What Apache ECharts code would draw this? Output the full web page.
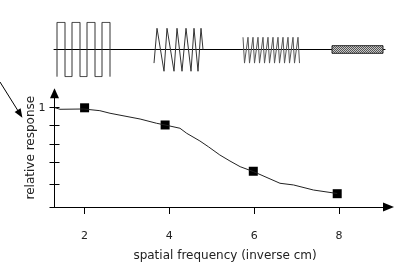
<!DOCTYPE html>
<html>
<head>
<meta charset="utf-8">
<script src="https://cdn.jsdelivr.net/npm/echarts@6/dist/echarts.min.js"></script>
<style>
  html, body { margin: 0; padding: 0; background: #fff; }
</style>
</head>
<body>
<div id="main" style="width: 402px; height: 263px;"></div>
<script>
// response curve (spatial frequency -> relative response)
var curveX = [1.30, 1.42, 1.98, 2.36, 2.60, 3.31, 3.70, 3.90, 4.25, 4.41, 4.72, 4.92, 5.19, 5.43, 5.67, 5.98, 6.61, 6.93, 7.40, 7.96];
var curveY = [1.000, 0.984, 0.987, 0.970, 0.944, 0.886, 0.843, 0.826, 0.793, 0.742, 0.665, 0.607, 0.524, 0.463, 0.406, 0.357, 0.239, 0.222, 0.171, 0.136];

// measured points (squares)
var pointX = [2.0, 3.9, 5.98, 7.96];
var pointY = [0.999, 0.826, 0.36, 0.134];

// axis ticks / labels
var xTicks = [2, 4, 6, 8];
var yTicks = [0.23, 0.45, 0.63, 0.82, 1];
var yLabels = [1];

// grating strip drawn above the chart (position along strip, amplitude)
var squareX = [3, 3, 11, 11, 18, 18, 26, 26, 33, 33, 41, 41, 48, 48, 56, 56];
var squareY = [-1, 1, 1, -1, -1, 1, 1, -1, -1, 1, 1, -1, -1, 1, 1, -1];
var zigX = [100, 103, 110, 113, 120, 123, 128, 132, 137, 140, 144, 147, 149];
var zigY = [-0.5, 0.78, -0.8, 0.78, -0.8, 0.78, -0.8, 0.78, -0.8, 0.78, -0.8, 0.78, 0];
var fineX = [189, 190.5, 194, 195.5, 199, 200.5, 204, 205.5, 209, 210.5, 214, 215.5, 219, 220.5, 224, 225.5, 229, 230.5, 234, 235.5, 239, 240.5, 244, 245.5];
var fineY = [0.45, -0.5, 0.45, -0.5, 0.45, -0.5, 0.45, -0.5, 0.45, -0.5, 0.45, -0.5, 0.45, -0.5, 0.45, -0.5, 0.45, -0.5, 0.45, -0.5, 0.45, -0.5, 0.45, -0.5];
var solidBand = [[278, -0.14], [329, 0.14]];

function zip(a, b) {
  return a.map(function (v, i) { return [v, b[i]]; });
}

// checkered fill for the finest grating
var pat = document.createElement('canvas');
pat.width = 2; pat.height = 2;
var pctx = pat.getContext('2d');
pctx.fillStyle = '#c8c8c8'; pctx.fillRect(0, 0, 2, 2);
pctx.fillStyle = '#555'; pctx.fillRect(0, 0, 1, 1); pctx.fillRect(1, 1, 1, 1);

var font = 'DejaVu Sans';
var myChart = echarts.init(document.getElementById('main'));

var option = {
  animation: false,
  textStyle: { fontFamily: font },
  grid: [
    { left: 54.5, right: 13.5, top: 93.3, bottom: 56 },
    { left: 54, right: 17, top: 22.3, bottom: 186.3 }
  ],
  xAxis: [
    {
      type: 'value', gridIndex: 0, min: 1.29, max: 9.17,
      name: 'spatial frequency (inverse cm)',
      nameLocation: 'middle', nameGap: 43,
      nameTextStyle: { color: '#222', fontSize: 12, padding: [0, 0, 0, 7] },
      axisLine: { show: true, onZero: false, lineStyle: { color: '#000', width: 1 },
        symbol: ['none', 'triangle'], symbolSize: [9, 11] },
      axisTick: { show: true, length: 7, lineStyle: { color: '#000' }, customValues: xTicks },
      axisLabel: { color: '#222', fontSize: 11, margin: 24, customValues: xTicks },
      splitLine: { show: false }
    },
    {
      type: 'value', gridIndex: 1, min: 0, max: 331,
      axisLine: { show: true, onZero: true, lineStyle: { color: '#000', width: 1 } },
      axisTick: { show: false }, axisLabel: { show: false }, splitLine: { show: false }
    }
  ],
  yAxis: [
    {
      type: 'value', gridIndex: 0, min: 0, max: 1.145, position: 'left',
      name: 'relative response',
      nameLocation: 'middle', nameGap: 18, nameRotate: 90, nameMoveOverlap: false,
      nameTextStyle: { color: '#222', fontSize: 12, padding: [0, 0, 0, 5] },
      axisLine: { show: true, onZero: false, lineStyle: { color: '#000', width: 1 },
        symbol: ['none', 'triangle'], symbolSize: [9, 10] },
      axisTick: { show: true, length: 5, lineStyle: { color: '#000' }, customValues: [0].concat(yTicks) },
      axisLabel: { color: '#222', fontSize: 11, margin: 9, customValues: yLabels },
      splitLine: { show: false }
    },
    {
      type: 'value', gridIndex: 1, min: -1, max: 1,
      axisLine: { show: false }, axisTick: { show: false },
      axisLabel: { show: false }, splitLine: { show: false }
    },
    {
      // inner half of the y ticks
      type: 'value', gridIndex: 0, min: 0, max: 1.145, position: 'left',
      axisLine: { show: false },
      axisTick: { show: true, inside: true, length: 5, lineStyle: { color: '#000' }, customValues: yTicks },
      axisLabel: { show: false }, splitLine: { show: false }
    }
  ],
  series: [
    {
      type: 'line', xAxisIndex: 0, yAxisIndex: 0,
      data: zip(curveX, curveY),
      showSymbol: false,
      lineStyle: { color: '#222', width: 1 },
      markLine: {
        silent: true, symbol: ['none', 'triangle'], symbolSize: [7, 9],
        label: { show: false },
        lineStyle: { color: '#000', width: 1, type: 'solid' },
        data: [[{ x: 0, y: 82 }, { x: 20, y: 114 }]]
      }
    },
    {
      type: 'scatter', xAxisIndex: 0, yAxisIndex: 0,
      data: zip(pointX, pointY),
      symbol: 'rect', symbolSize: 9,
      itemStyle: { color: '#000', opacity: 1 }
    },
    {
      type: 'line', xAxisIndex: 1, yAxisIndex: 1,
      data: zip(squareX, squareY), showSymbol: false,
      lineStyle: { color: '#333', width: 1 },
      markArea: {
        silent: true,
        itemStyle: { color: { image: pat, repeat: 'repeat' }, borderColor: '#222', borderWidth: 1, opacity: 1 },
        data: [[{ coord: solidBand[0] }, { coord: solidBand[1] }]]
      }
    },
    {
      type: 'line', xAxisIndex: 1, yAxisIndex: 1,
      data: zip(zigX, zigY), showSymbol: false,
      lineStyle: { color: '#333', width: 1 }
    },
    {
      type: 'line', xAxisIndex: 1, yAxisIndex: 1,
      data: zip(fineX, fineY), showSymbol: false,
      lineStyle: { color: '#555', width: 1 }
    }
  ]
};

myChart.setOption(option);
</script>
</body>
</html>
